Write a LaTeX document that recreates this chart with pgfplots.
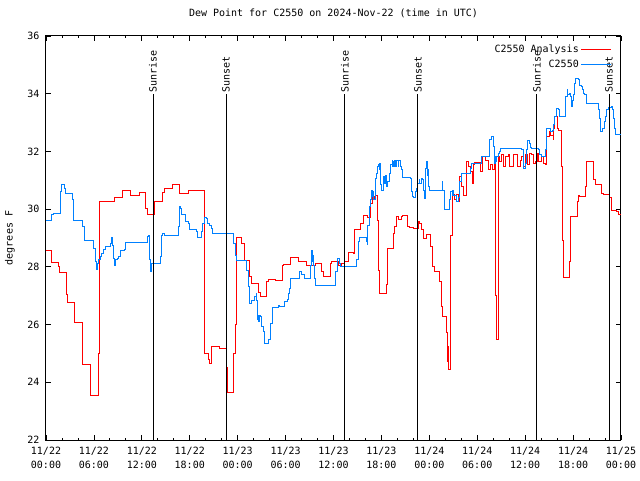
\documentclass[border=0pt]{standalone}
\usepackage{pgfplots}
\pgfplotsset{compat=1.18}
\usepackage{fontspec}
\setmainfont{DejaVu Sans Mono}
\definecolor{ared}{RGB}{255,0,0}
\definecolor{oblue}{RGB}{0,128,255}
\begin{document}
\fontsize{10pt}{12pt}\selectfont
\begin{tikzpicture}
\begin{axis}[
  width=575pt, height=404pt, scale only axis,
  xmin=0, xmax=72, ymin=22, ymax=36,
  xtick={0,6,...,72},
  xticklabels={{11/22\\00:00},{11/22\\06:00},{11/22\\12:00},{11/22\\18:00},{11/23\\00:00},{11/23\\06:00},{11/23\\12:00},{11/23\\18:00},{11/24\\00:00},{11/24\\06:00},{11/24\\12:00},{11/24\\18:00},{11/25\\00:00}},
  minor x tick num=2,
  ytick={22,24,...,36},
  tick align=inside,
  major tick length=5pt, minor tick length=2.5pt,
  every tick/.style={black, line width=0.8pt},
  axis line style={black, line width=1pt},
  xticklabel style={align=center, font=\fontsize{10pt}{14pt}\selectfont, yshift=-4pt},
  yticklabel style={font=\fontsize{10pt}{12pt}\selectfont, xshift=-3pt},
  /pgf/number format/assume math mode=true,
  title={Dew Point for C2550 on 2024-Nov-22 (time in UTC)},
  title style={at={(axis description cs:0.5,1)}, anchor=center, yshift=17pt},
  ylabel={degrees F},
  ylabel style={at={(axis description cs:-0.0626,0.5)}, anchor=center},
  legend style={draw=none, fill=none, at={(1,1)}, anchor=north east, xshift=-6pt, yshift=-5pt,
    cells={anchor=east}, row sep=2pt, font=\fontsize{10pt}{12pt}\selectfont},
  legend plot pos=right,
  legend image code/.code={\draw[#1] (0pt,0pt) -- (30pt,0pt);},
  clip=true,
]
\coordinate (O) at (rel axis cs:0,0);
\addplot[const plot, ared, line width=1pt] coordinates {
(0,28.58)(0.67,28.16)(1.59,28.0)(1.75,27.81)(2.59,27.05)(2.65,26.77)(3.55,26.30)(3.62,26.08)(4.55,24.97)(4.62,24.60)(5.51,24.31)(5.6,23.53)(6.55,25.0)(6.68,30.27)(8.6,30.42)(9.6,30.65)(10.6,30.49)(11.7,30.58)(12.5,30.03)(12.77,29.83)(13.55,30.26)(14.6,30.58)(14.8,30.70)(15.8,30.86)(16.7,30.55)(17.8,30.63)(19.8,26.39)(19.9,25.0)(20.3,24.8)(20.5,24.66)(20.7,25.23)(21.7,25.18)(22.6,24.5)(22.7,23.64)(23.5,25.0)(23.7,25.99)(23.9,29.02)(24.54,28.82)(24.8,28.21)(25.5,27.66)(25.75,27.41)(26.6,27.1)(26.8,26.97)(27.6,27.5)(27.8,27.57)(28.7,27.51)(29.6,28.05)(29.8,28.09)(30.6,28.33)(31.6,28.2)(31.8,28.17)(32.6,28.03)(33.7,28.1)(34.5,27.85)(34.8,27.68)(35.6,28.1)(35.8,28.17)(36.6,28.05)(37.0,28.1)(37.4,28.2)(37.9,28.5)(38.5,28.45)(38.6,29.28)(39.4,29.51)(39.7,29.78)(40.2,29.72)(40.6,30.2)(40.9,30.43)(41.1,30.35)(41.3,30.46)(41.5,29.62)(41.6,27.89)(41.7,27.06)(42.6,27.4)(42.7,28.62)(43.5,29.16)(43.7,29.39)(43.9,29.74)(44.2,29.65)(44.5,29.74)(44.7,29.78)(45.3,29.4)(45.5,29.37)(46.0,29.32)(46.6,29.57)(46.8,29.5)(47.0,29.28)(47.3,28.99)(47.6,29.11)(48.2,28.70)(48.4,28.01)(48.6,27.83)(49.3,27.5)(49.5,26.62)(49.7,26.27)(50.1,25.74)(50.25,25.23)(50.3,24.71)(50.35,25.23)(50.45,24.43)(50.6,26.5)(50.7,29.09)(50.85,30.66)(51.0,30.5)(51.2,30.32)(51.4,30.5)(51.6,30.27)(51.8,31.12)(52.0,30.8)(52.3,30.49)(52.6,31.64)(52.9,31.47)(53.1,31.30)(53.4,30.90)(53.55,31.53)(53.7,31.61)(54.4,31.30)(54.6,31.82)(54.9,31.84)(55.06,31.70)(55.4,31.36)(55.6,31.53)(55.9,31.38)(56.1,31.59)(56.3,27.0)(56.45,25.5)(56.6,31.82)(56.8,31.64)(57.06,31.88)(57.3,31.47)(57.6,31.84)(57.9,31.88)(58.1,31.47)(58.4,31.47)(58.6,31.88)(59.0,31.88)(59.1,31.47)(59.4,31.70)(59.6,31.82)(59.8,31.47)(60.07,31.88)(60.3,31.53)(60.6,31.93)(60.8,31.88)(61.07,31.59)(61.3,31.64)(61.6,31.93)(61.7,31.64)(62.07,31.82)(62.3,31.59)(62.5,31.53)(62.7,32.51)(63.0,32.68)(63.2,32.55)(63.5,32.40)(63.6,32.8)(63.7,33.20)(64.0,32.9)(64.07,32.8)(64.15,32.74)(64.5,31.47)(64.65,28.93)(64.8,27.64)(65.6,28.18)(65.7,29.74)(66.5,30.26)(66.65,30.49)(66.8,30.43)(67.6,30.78)(67.7,31.65)(68.6,31.01)(68.75,30.84)(69.6,30.55)(69.8,30.52)(70.6,30.41)(70.75,29.97)(71.4,29.91)(71.7,29.83)(72,29.83)
};
\addlegendentry{C2550 Analysis}
\addplot[const plot, oblue, line width=1pt] coordinates {
(0,29.59)(0.75,29.8)(1.0,29.86)(1.84,30.6)(2.0,30.84)(2.3,30.7)(2.5,30.55)(3.34,30.32)(3.5,29.59)(4.59,29.39)(4.76,28.9)(6.0,28.64)(6.2,28.18)(6.3,27.91)(6.4,28.1)(6.6,28.24)(6.85,28.35)(7.0,28.47)(7.25,28.6)(7.5,28.72)(8.1,28.82)(8.26,29.02)(8.35,28.75)(8.43,28.30)(8.56,28.03)(8.7,28.24)(8.9,28.28)(9.1,28.35)(9.27,28.58)(9.8,28.6)(10.0,28.85)(12.7,29.04)(12.86,29.1)(12.94,28.24)(13.1,27.83)(13.25,28.10)(14.3,28.35)(14.5,29.10)(14.65,29.16)(14.8,29.10)(16.6,29.39)(16.75,30.08)(16.85,30.03)(17.0,29.83)(17.35,29.8)(17.5,29.57)(17.87,29.51)(18.0,29.31)(18.8,29.21)(19.0,29.02)(19.5,29.21)(19.6,29.51)(19.8,29.72)(20.04,29.69)(20.2,29.51)(20.45,29.45)(20.7,29.33)(20.9,29.16)(23.45,28.82)(23.7,28.41)(23.9,28.21)(25.1,27.89)(25.3,27.31)(25.5,26.74)(25.7,26.85)(26.1,26.97)(26.3,27.08)(26.4,26.85)(26.5,26.16)(26.6,26.33)(26.67,26.1)(26.75,26.33)(26.8,26.27)(27.0,25.93)(27.2,25.75)(27.3,25.35)(27.8,25.47)(28.1,26.04)(28.3,26.6)(29.1,26.67)(29.3,26.62)(29.9,26.79)(30.2,26.88)(30.35,27.08)(30.5,27.26)(30.6,27.6)(31.7,27.83)(32.0,27.72)(32.35,27.6)(33.1,28.06)(33.2,28.35)(33.27,28.58)(33.35,28.18)(33.4,28.41)(33.5,28.06)(33.6,27.6)(33.8,27.34)(36.3,27.83)(36.45,28.30)(36.8,28.12)(36.9,28.0)(38.9,28.24)(39.1,28.87)(39.2,29.02)(40.07,28.87)(40.24,28.76)(40.32,29.45)(40.49,29.68)(40.57,30.08)(40.66,30.32)(40.82,30.66)(40.9,30.43)(41.0,30.60)(41.07,30.32)(41.24,31.07)(41.4,31.24)(41.57,31.47)(41.66,31.53)(41.74,31.36)(41.82,31.59)(41.9,30.84)(41.99,30.66)(42.24,30.90)(42.32,31.12)(42.4,30.90)(42.49,31.01)(42.57,31.18)(42.66,30.78)(42.82,30.95)(42.99,31.24)(43.16,31.53)(43.33,31.70)(43.41,31.47)(43.49,31.65)(43.57,31.47)(43.66,31.70)(43.82,31.47)(43.91,31.68)(44.08,31.47)(44.16,31.70)(44.33,31.47)(44.49,31.36)(44.66,31.10)(45.58,31.05)(45.75,30.6)(45.83,30.43)(46.08,30.41)(46.25,30.60)(46.41,30.72)(46.58,30.90)(46.75,31.01)(46.83,30.90)(47.0,31.07)(47.16,31.01)(47.33,30.66)(47.41,30.38)(47.5,30.78)(47.58,31.41)(47.66,31.65)(47.75,31.18)(47.83,31.36)(47.91,30.78)(48.0,30.66)(49.59,30.95)(49.67,30.66)(49.84,30.32)(49.92,29.99)(50.5,30.32)(50.59,30.49)(50.67,30.60)(50.84,30.49)(50.92,30.66)(51.0,30.49)(51.42,30.26)(51.59,30.41)(51.75,30.84)(51.84,30.95)(52.0,31.24)(53.14,31.41)(53.3,31.59)(54.55,31.82)(54.8,31.84)(55.56,32.40)(55.73,32.53)(56.06,32.16)(56.14,31.82)(56.22,31.59)(56.3,31.82)(56.39,31.65)(56.47,31.82)(56.64,31.93)(56.81,31.99)(56.89,32.11)(59.56,32.05)(59.73,31.41)(59.98,31.59)(60.15,32.05)(60.23,32.37)(60.57,32.28)(60.73,32.14)(60.82,32.11)(61.65,32.05)(61.82,31.88)(62.07,31.84)(62.57,32.05)(62.65,32.45)(62.73,32.80)(63.23,32.68)(63.4,32.74)(63.57,32.92)(63.73,33.20)(63.98,33.49)(64.15,33.46)(64.32,33.20)(65.07,33.90)(65.24,34.13)(65.32,33.96)(65.49,34.01)(65.66,33.90)(65.74,33.55)(65.91,33.78)(65.99,33.96)(66.16,33.99)(66.24,34.36)(66.32,34.53)(66.66,34.48)(66.83,34.30)(67.08,34.24)(67.24,34.13)(67.33,34.0)(67.49,33.96)(67.66,33.78)(67.74,33.67)(69.15,33.44)(69.32,33.15)(69.49,32.68)(69.74,32.80)(69.91,33.03)(70.08,33.20)(70.24,33.44)(70.41,33.53)(70.83,33.57)(70.99,33.44)(71.08,33.15)(71.16,32.80)(71.25,32.60)(72,32.60)
};
\addlegendentry{C2550}
\foreach \t/\lab in {13.4/Sunrise, 22.54/Sunset, 37.44/Sunrise, 46.58/Sunset, 61.48/Sunrise, 70.5/Sunset}{
  \edef\temp{\noexpand\draw[black, line width=1pt] (axis cs:\t,22) -- (axis cs:\t,34);
    \noexpand\node[rotate=90, anchor=west, inner sep=1pt] at (axis cs:\t,34) {\lab};}
  \temp
}
\end{axis}
\pgfresetboundingbox
\path[use as bounding box] (O) ++(-46pt,-40pt) rectangle ++(640pt,480pt);
\end{tikzpicture}
\end{document}
